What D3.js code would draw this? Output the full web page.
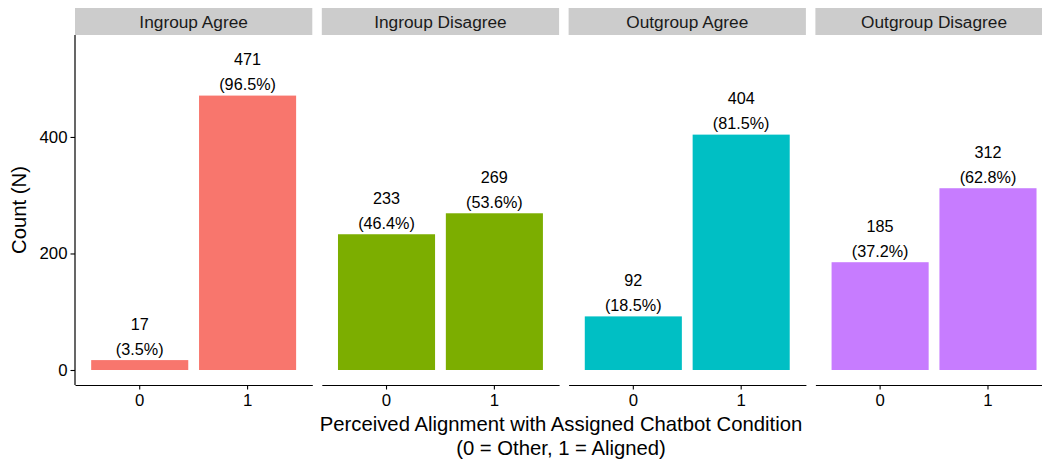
<!DOCTYPE html>
<html>
<head>
<meta charset="utf-8">
<script src="https://cdn.jsdelivr.net/npm/d3@7"></script>
<style>
  body { margin: 0; background: #fff; }
  svg { display: block; font-family: "Liberation Sans", Arial, sans-serif; }
</style>
</head>
<body>
<svg id="chart" width="1042" height="461"></svg>
<script>
const facets = ["Ingroup Agree", "Ingroup Disagree", "Outgroup Agree", "Outgroup Disagree"];
const categories = ["0", "1"];
const counts = [
  [17, 471],
  [233, 269],
  [92, 404],
  [185, 312]
];
const percents = [
  ["(3.5%)", "(96.5%)"],
  ["(46.4%)", "(53.6%)"],
  ["(18.5%)", "(81.5%)"],
  ["(37.2%)", "(62.8%)"]
];
const colors = ["#F8766D", "#7CAE00", "#00BFC4", "#C77CFF"];
const yTicks = [0, 200, 400];
const xTitle = ["Perceived Alignment with Assigned Chatbot Condition", "(0 = Other, 1 = Aligned)"];
const yTitle = "Count (N)";

const svg = d3.select("#chart");
const mLeft = 75, panelW = 237.3, gap = 9.5;
const mTop = 35, mBottom = 385;
const stripTop = 8;

const y = d3.scaleLinear().domain([-25.75, 575]).range([mBottom, mTop]);
const xOuter = d3.scaleBand().domain(facets)
  .range([mLeft, mLeft + 4 * panelW + 3 * gap]).paddingInner(gap / (panelW + gap)).paddingOuter(0);

facets.forEach((f, i) => {
  const px = xOuter(f);
  const g = svg.append("g").attr("transform", `translate(${px},0)`);
  const x = d3.scaleBand().domain(categories).range([0, xOuter.bandwidth()])
    .paddingInner(0.1).paddingOuter(0.15);

  // strip
  g.append("rect").attr("x", 0).attr("y", stripTop).attr("width", xOuter.bandwidth())
    .attr("height", mTop - stripTop).attr("fill", "#cccccc");
  g.append("text").attr("x", xOuter.bandwidth() / 2).attr("y", 27.5)
    .attr("text-anchor", "middle").attr("font-size", 17.3).attr("fill", "#1a1a1a").text(f);

  // bars
  const data = categories.map((c, j) => ({ c, v: counts[i][j], p: percents[i][j] }));
  g.selectAll("rect.bar").data(data).join("rect").attr("class", "bar")
    .attr("x", d => x(d.c)).attr("width", x.bandwidth())
    .attr("y", d => y(d.v)).attr("height", d => y(0) - y(d.v))
    .attr("fill", colors[i]);

  // labels
  g.selectAll("text.cnt").data(data).join("text").attr("class", "cnt")
    .attr("x", d => x(d.c) + x.bandwidth() / 2).attr("y", d => y(d.v) - 30.5)
    .attr("text-anchor", "middle").attr("font-size", 16.2).attr("fill", "#000").text(d => d.v);
  g.selectAll("text.pct").data(data).join("text").attr("class", "pct")
    .attr("x", d => x(d.c) + x.bandwidth() / 2).attr("y", d => y(d.v) - 5.5)
    .attr("text-anchor", "middle").attr("font-size", 16.2).attr("fill", "#000").text(d => d.p);

  // x axis
  const xa = g.append("g").attr("transform", `translate(0,${mBottom})`)
    .call(d3.axisBottom(x).tickSize(4.5).tickPadding(5).tickSizeOuter(0));
  xa.select(".domain").attr("stroke", "#000").attr("stroke-width", 1.2);
  xa.selectAll(".tick line").attr("stroke", "#000").attr("stroke-width", 1.1);
  xa.selectAll(".tick text").attr("font-size", 16.8).attr("fill", "#000")
    .attr("font-family", "Liberation Sans, Arial, sans-serif");

  if (i === 0) {
    const ya = svg.append("g").attr("transform", `translate(${px},0)`)
      .call(d3.axisLeft(y).tickValues(yTicks).tickSize(4.5).tickPadding(3).tickSizeOuter(0));
    ya.select(".domain").attr("stroke", "#000").attr("stroke-width", 1.2)
      .attr("d", `M0,${mBottom}V${mTop}`);
    ya.selectAll(".tick line").attr("stroke", "#000").attr("stroke-width", 1.1);
    ya.selectAll(".tick text").attr("font-size", 16.8).attr("fill", "#000")
      .attr("font-family", "Liberation Sans, Arial, sans-serif");
  }
});

// axis titles
const xt = svg.append("text").attr("text-anchor", "middle").attr("font-size", 20.3).attr("fill", "#000");
xt.append("tspan").attr("x", 561).attr("y", 431).text(xTitle[0]);
xt.append("tspan").attr("x", 561).attr("y", 455).text(xTitle[1]);

svg.append("text").attr("transform", `translate(26,${(mTop + mBottom) / 2}) rotate(-90)`)
  .attr("text-anchor", "middle").attr("font-size", 20.3).attr("fill", "#000").text(yTitle);
</script>
</body>
</html>
